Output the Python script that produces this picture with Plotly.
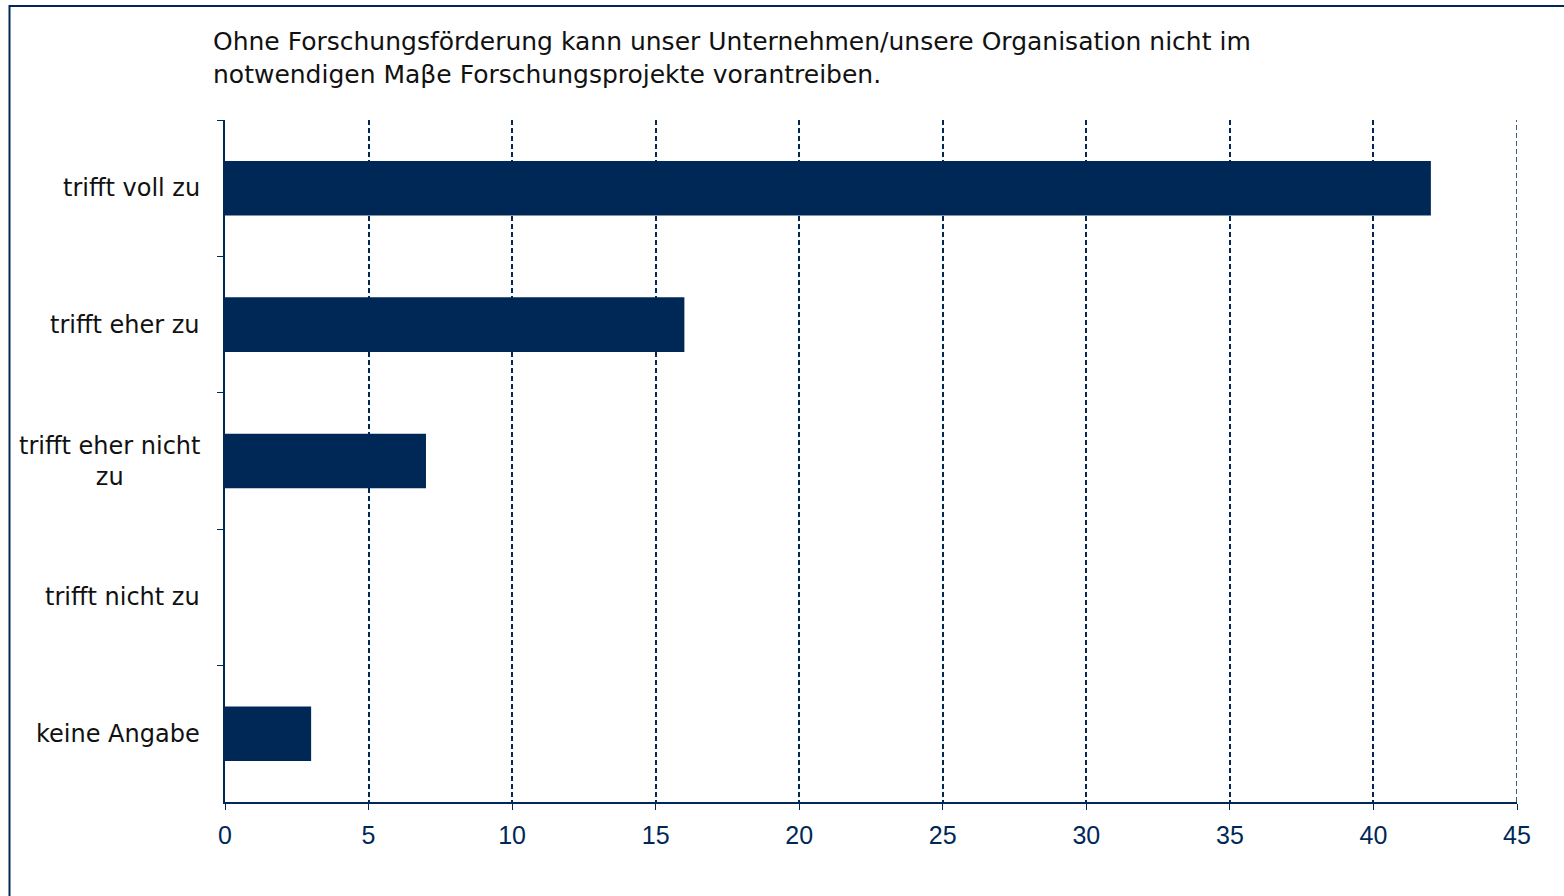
import plotly.graph_objects as go

TITLE = ("Ohne Forschungsförderung kann unser Unternehmen/unsere Organisation nicht im<br>"
         "notwendigen Maβe Forschungsprojekte vorantreiben.")
CATEGORIES = ['trifft voll zu', 'trifft eher zu', 'trifft eher nicht<br>zu',
              'trifft nicht zu', 'keine Angabe']
VALUES = [42, 16, 7, 0, 3]
X_TICKS = [0, 5, 10, 15, 20, 25, 30, 35, 40, 45]

NAVY = '#002856'
W, H = 1564, 896
L, R, T, B = 225, 47, 120, 94
PW, PH = W - L - R, H - T - B

fig = go.Figure()
fig.add_trace(go.Bar(
    x=VALUES, y=CATEGORIES, orientation='h',
    marker=dict(color=NAVY, line=dict(width=0)),
    hoverinfo='x+y',
))

# category labels as annotations so the wrapped line is centred
for cat in CATEGORIES:
    fig.add_annotation(
        x=0, xref='paper', xshift=-23, xanchor='right',
        y=cat, yref='y', yanchor='middle',
        text=cat, showarrow=False, align='center',
        font=dict(family='DejaVu Sans', size=24, color='#111111'),
    )

# plotly drops the gridline on the range edge, so draw the last one by hand
fig.add_vline(x=X_TICKS[-1], line=dict(color=NAVY, width=1.5, dash='5px,3px'))

# outer frame
fig.add_shape(
    type='rect', xref='paper', yref='paper', layer='below',
    x0=(9.5 - L) / PW, x1=(1575 - L) / PW,
    y0=(H - T - 905) / PH, y1=1 + (T - 6) / PH,
    line=dict(color=NAVY, width=2),
)

fig.update_layout(
    width=W, height=H,
    margin=dict(l=L, r=R, t=T, b=B),
    paper_bgcolor='white', plot_bgcolor='white',
    bargap=0.6,
    showlegend=False,
    title=dict(
        text=TITLE, xref='container', x=213 / W, xanchor='left',
        yref='container', y=1 - 50 / H, yanchor='top',
        font=dict(family='DejaVu Sans', size=25, color='#111111'),
    ),
    xaxis=dict(
        range=[0, 45], tickvals=X_TICKS, ticks='outside', ticklen=6,
        tickcolor=NAVY, showline=True, linecolor=NAVY, linewidth=2,
        showgrid=True, gridcolor=NAVY, griddash='5px,3px', gridwidth=1.5,
        zeroline=False, ticklabelstandoff=4,
        tickfont=dict(family='Liberation Sans', size=25, color=NAVY),
    ),
    yaxis=dict(
        categoryorder='array', categoryarray=CATEGORIES, autorange='reversed',
        showticklabels=False, ticks='outside', tickson='boundaries', ticklen=6,
        tickcolor=NAVY, showline=True, linecolor=NAVY, linewidth=2,
        showgrid=False, zeroline=False,
    ),
)

fig.write_html('out.html', config={'displayModeBar': False},
               post_script="document.body.style.margin='0';")
